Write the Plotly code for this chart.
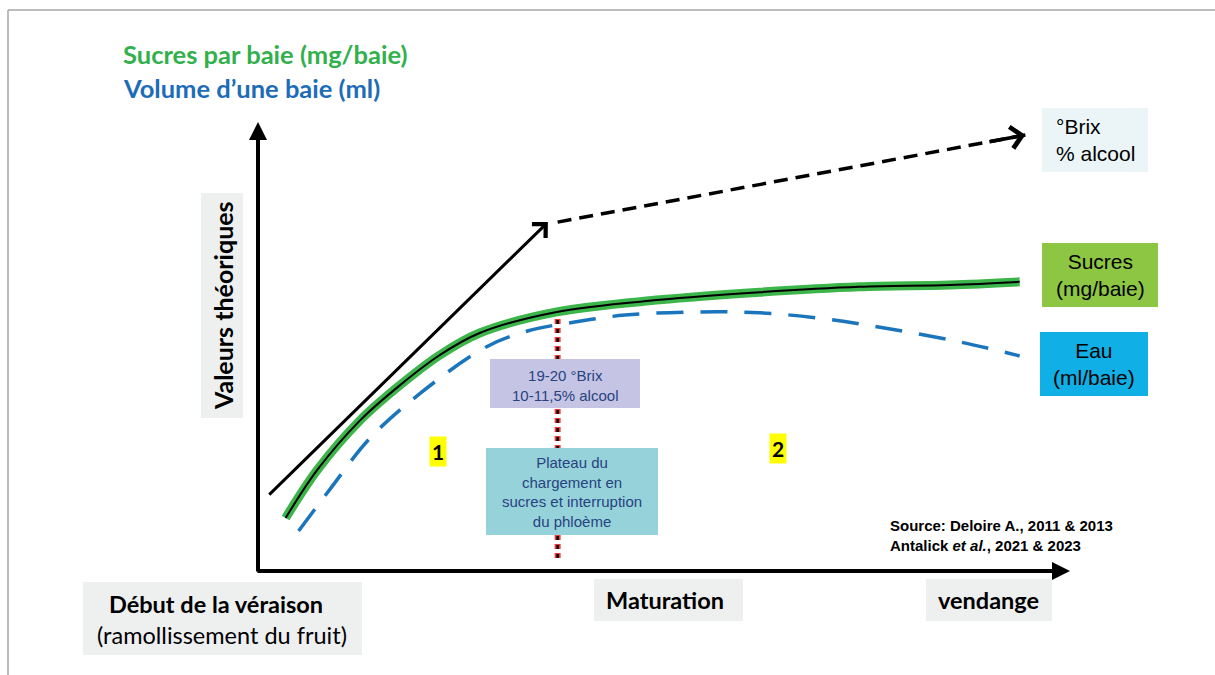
import plotly.graph_objects as go

W, H = 1215, 675

# Ripening time (0 = véraison, 100 = vendange) and theoretical values (0-100)
t_sugar = [3.4, 7.3, 12.6, 17.5, 22.4, 27.3, 36.8, 49.5, 61.8, 74.1, 85.2, 93.8]
sugar = [11.8, 22.5, 33.6, 41.4, 48.1, 53.0, 57.7, 60.4, 62.1, 63.3, 63.7, 64.4]

t_water = [5.0, 8.9, 13.8, 20.0, 28.1, 33.3, 39.2, 45.2, 54.4, 61.8, 69.2, 76.6, 86.5, 93.8]
water = [8.9, 18.3, 29.6, 39.6, 49.9, 53.5, 55.5, 57.0, 57.7, 57.5, 56.3, 54.3, 51.0, 47.9]

# °Brix / % alcool: linear phase, then extrapolated trend
t_brix = [1.2, 35.7]
brix = [16.7, 77.7]
t_brix_trend = [36.9, 94.5]
brix_trend = [77.7, 97.1]

# Plateau of sugar loading (phloem interruption)
t_plateau = 36.9
plateau_span = [2.9, 56.3]

# axis extent of the conceptual diagram
axis_max = 100

# axes ranges chosen so that the diagram sits inside the frame
XR = [-31.773, 117.857]
YR = [-23.163, 127.171]

FONT_C = "Lato"
FONT_A = "Liberation Sans"


def px(x):
    return x / W


def py(y):
    return 1 - y / H


fig = go.Figure()

# sugar curve: green halo with thin black core
fig.add_trace(go.Scatter(x=t_sugar, y=sugar, mode="lines",
                         line=dict(color="#3cb54a", width=9, shape="spline", smoothing=1.0),
                         hoverinfo="skip"))
fig.add_trace(go.Scatter(x=t_sugar, y=sugar, mode="lines",
                         line=dict(color="black", width=2, shape="spline", smoothing=1.0),
                         hoverinfo="skip"))
# water volume curve
fig.add_trace(go.Scatter(x=t_water, y=water, mode="lines",
                         line=dict(color="#1b75bc", width=3.5, dash="27px,17px", shape="spline", smoothing=1.0),
                         hoverinfo="skip"))
# dashed trend of °Brix
fig.add_trace(go.Scatter(x=t_brix_trend, y=brix_trend, mode="lines",
                         line=dict(color="black", width=3.5, dash="14px,8px"),
                         hoverinfo="skip"))
# plateau marker line (red with black dots)
fig.add_trace(go.Scatter(x=[t_plateau, t_plateau], y=plateau_span, mode="lines",
                         line=dict(color="#ee3a32", width=6, dash="5px,4px"),
                         hoverinfo="skip"))
fig.add_trace(go.Scatter(x=[t_plateau, t_plateau], y=plateau_span, mode="lines",
                         line=dict(color="black", width=2.5, dash="4px,5px"),
                         hoverinfo="skip"))

ann = []


def arrow(x, y, ax, ay, head, width, size):
    ann.append(dict(x=x, y=y, ax=ax, ay=ay, xref="x", yref="y", axref="x", ayref="y",
                    showarrow=True, arrowhead=head, arrowwidth=width, arrowsize=size,
                    arrowcolor="black", text=""))


# axes
arrow(0, axis_max, 0, -0.45, 2, 4, 0.9)
arrow(axis_max, 0, -0.25, 0, 2, 4, 0.9)
# °Brix linear phase
arrow(t_brix[1], brix[1], t_brix[0], brix[0], 4, 3, 1.25)
# head of the dashed trend
dx = t_brix_trend[1] - t_brix_trend[0]
dy = brix_trend[1] - brix_trend[0]
arrow(t_brix_trend[1], brix_trend[1], t_brix_trend[1] - 0.08 * dx, brix_trend[1] - 0.08 * dy, 4, 3.5, 1.2)

shapes = []


def box(x0, y0, x1, y1, color):
    shapes.append(dict(type="rect", xref="paper", yref="paper",
                       x0=px(x0), x1=px(x1), y0=py(y1), y1=py(y0),
                       fillcolor=color, line=dict(width=0), layer="above"))


def text(t, x, y, size, color="black", family=FONT_A, xanchor="center", yanchor="middle", **kw):
    ann.append(dict(text=t, x=px(x), y=py(y), xref="paper", yref="paper", showarrow=False,
                    xanchor=xanchor, yanchor=yanchor,
                    font=dict(size=size, color=color, family=family), **kw))


# frame
shapes.append(dict(type="line", xref="paper", yref="paper", x0=px(8), x1=1, y0=py(10), y1=py(10),
                   line=dict(color="#a6a6a6", width=1.5)))
shapes.append(dict(type="line", xref="paper", yref="paper", x0=px(8), x1=px(8), y0=py(10), y1=0,
                   line=dict(color="#a6a6a6", width=1.5)))

# headings
text("<b>Sucres par baie (mg/baie)</b>", 121, 54, 25.5, "#31b04c", FONT_C, xanchor="left")
text("<b>Volume d\u2019une baie (ml)</b>", 121, 88, 25.5, "#1c6cb8", FONT_C, xanchor="left")

# y label
box(201, 193, 243, 418, "#eef0f0")
text("<b>Valeurs théoriques</b>", 223, 306, 25, "black", FONT_C, textangle=-90)

# right-hand legend boxes
box(1042, 108, 1148, 172, "#ebf5f7")
text("°Brix<br>% alcool", 1054, 140, 21, "black", FONT_A, xanchor="left", align="left")
box(1042, 243, 1158, 307, "#8dc643")
text("Sucres<br>(mg/baie)", 1100, 275, 21)
box(1040, 332, 1148, 396, "#10afe5")
text("Eau<br>(ml/baie)", 1094, 364, 21)

# central boxes
box(490, 359, 640, 408, "#c5c4e4")
text("19-20 °Brix<br>10-11,5% alcool", 565, 385, 15, "#27437f")
box(486, 448, 658, 535, "#96d2d9")
text("Plateau du<br>chargement en<br>sucres et interruption<br>du phloème", 572, 492, 15, "#27437f")

# phase numbers
text("<b>1</b>", 438, 451, 21, "black", FONT_C, bgcolor="#ffff00", borderpad=2)
text("<b>2</b>", 778, 448, 21, "black", FONT_C, bgcolor="#ffff00", borderpad=2)

# source
text("<b>Source: Deloire A., 2011 & 2013</b>", 888, 525, 15, xanchor="left")
text("<b>Antalick <i>et al.</i>, 2021 & 2023</b>", 888, 545, 15, xanchor="left")

# bottom stage labels
box(83, 582, 362, 655, "#eeefef")
text("<b>Début de la véraison</b>", 216, 604, 23.5, "black", FONT_C)
text("(ramollissement du fruit)", 222, 635, 23.5, "black", FONT_C)
box(594, 579, 743, 621, "#eeefef")
text("<b>Maturation</b>", 665, 600, 23.5, "black", FONT_C)
box(926, 579, 1052, 621, "#eeefef")
text("<b>vendange</b>", 988, 600, 23.5, "black", FONT_C)

fig.update_layout(
    width=W, height=H,
    margin=dict(l=0, r=0, t=0, b=0),
    paper_bgcolor="white", plot_bgcolor="white",
    showlegend=False,
    xaxis=dict(range=XR, visible=False, fixedrange=True),
    yaxis=dict(range=YR, visible=False, fixedrange=True),
    shapes=shapes, annotations=ann,
)

fig.write_html("out.html")
